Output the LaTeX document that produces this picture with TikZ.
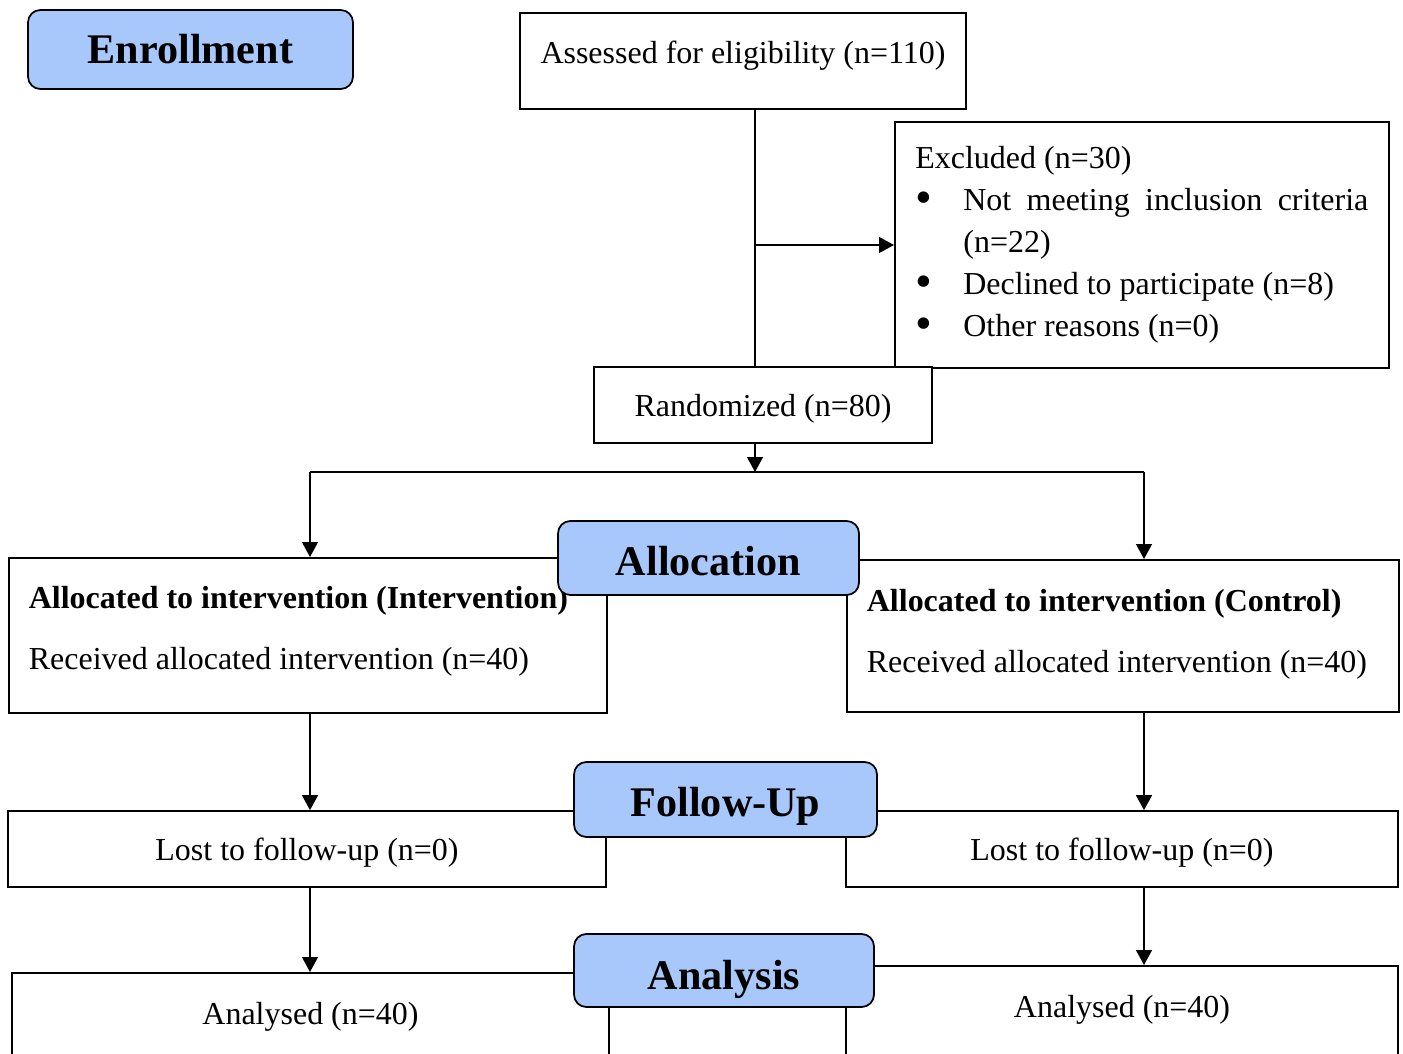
\documentclass[tikz,border=0pt]{standalone}
\usepackage{fontspec}
\usepackage{graphicx}
\setmainfont{Liberation Serif}
\usetikzlibrary{arrows.meta,positioning}
\definecolor{headblue}{RGB}{168,199,250}
\tikzset{
  box/.style={draw, fill=white, inner sep=0pt, font=\fontsize{18.2}{23.7}\selectfont,
    execute at begin node={\spaceskip=0pt \xspaceskip=0pt}},
  head/.style={draw, fill=headblue, rounded corners=7pt, inner sep=0pt, text depth=0pt,
    font=\fontsize{24}{28}\selectfont\bfseries},
  arr/.style={-{Triangle[length=8.5pt,width=9pt]}}
}
\newcommand{\bulletitem}[1]{\makebox[0.96cm][l]{\raisebox{-0.1em}{\scalebox{1.5}{\textbullet}}}%
  \parbox[t]{8.1cm}{\spaceskip=0pt \xspaceskip=0pt #1}}

\begin{document}
\begin{tikzpicture}[x=0.02cm,y=-0.02cm,line width=1pt]
    \clip (0,0) rectangle (1403,1054);
    % boxes
    \node[box, minimum width=8.92cm, minimum height=1.92cm, text depth=0.34cm] (assess) at (743,61)
      {Assessed for eligibility (n=110)};
    \node[box, anchor=north west, minimum width=9.88cm, minimum height=4.92cm,
      text width=9.06cm, inner xsep=0.4cm, align=left] (excl) at (894,121)
      {Excluded (n=30)\\
       \bulletitem{\makebox[8.1cm][s]{Not meeting inclusion criteria}\\(n=22)}\\[6.8pt]
       \bulletitem{Declined to participate (n=8)}\\
       \bulletitem{Other reasons (n=0)}};
    \node[box, minimum width=6.76cm, minimum height=1.52cm, text height=0.6cm] (rand) at (763,405)
      {Randomized (n=80)};
    \node[box, anchor=north west, minimum width=11.96cm, minimum height=3.1cm,
      text width=11.16cm, inner xsep=0.4cm, align=left, text depth=1.5cm] (allocL) at (8,557)
      {\textbf{Allocated to intervention (Intervention)}\\[10.8pt]
       Received allocated intervention (n=40)};
    \node[box, anchor=north west, minimum width=11.04cm, minimum height=3.04cm,
      text width=10.24cm, inner xsep=0.4cm, align=left, text depth=1.42cm] (allocR) at (846,559)
      {\textbf{Allocated to intervention (Control)}\\[10.8pt]
       Received allocated intervention (n=40)};
    \node[box, minimum width=11.96cm, minimum height=1.52cm, text height=0.6cm] (lostL) at (307,849)
      {Lost to follow-up (n=0)};
    \node[box, minimum width=11.04cm, minimum height=1.52cm, text height=0.6cm] (lostR) at (1122,849)
      {Lost to follow-up (n=0)};
    \node[box, anchor=north, minimum width=11.94cm, inner ysep=0.58cm,
      text depth=2cm] (analL) at (310.5,972) {Analysed (n=40)};
    \node[box, anchor=north, minimum width=11.04cm, inner ysep=0.58cm,
      text depth=2cm] (analR) at (1122,965) {Analysed (n=40)};
    % connectors
    \coordinate (split) at (755,245);
    \coordinate (fork) at (755,472);
    \coordinate (colL) at (310,472);
    \coordinate (colR) at (1144,472);
    \draw (assess.south -| split) -- (rand.north -| split);
    \draw[arr] (split) -- (excl.west |- split);
    \draw[arr] (rand.south -| fork) -- (fork);
    \draw (colL) -- (colR);
    \draw[arr] (colL) -- (allocL.north -| colL);
    \draw[arr] (colR) -- (allocR.north -| colR);
    \draw[arr] (allocL.south -| colL) -- (lostL.north -| colL);
    \draw[arr] (allocR.south -| colR) -- (lostR.north -| colR);
    \draw[arr] (lostL.south -| colL) -- (analL.north -| colL);
    \draw[arr] (lostR.south -| colR) -- (analR.north -| colR);
    % stage headers
    \node[head, minimum width=6.5cm, minimum height=1.58cm, text height=0.56cm] (enroll) at (190.5,49.5) {Enrollment};
    \node[head, minimum width=6.02cm, minimum height=1.48cm, text height=0.72cm] (alloc) at (708.5,558) {Allocation};
    \node[head, minimum width=6.06cm, minimum height=1.5cm, text height=0.68cm] (follow) at (725.5,799.5) {Follow-Up};
    \node[head, minimum width=6cm, minimum height=1.46cm, text height=0.76cm] (analysis) at (724,970.5) {Analysis};
\end{tikzpicture}
\end{document}
